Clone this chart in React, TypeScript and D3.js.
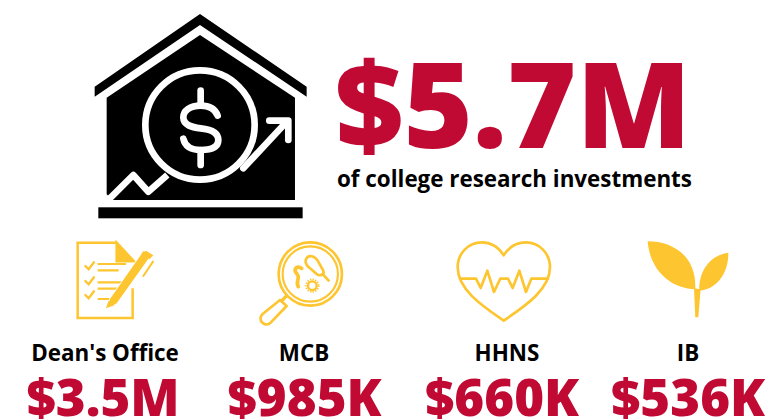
import React from "react";
import * as d3 from "d3";

const categories = ["Dean's Office", "MCB", "HHNS", "IB"];
const amounts = [3500000, 985000, 660000, 536000];
const amountLabels = ["$3.5M", "$985K", "$660K", "$536K"];
const totalLabel = "$5.7M";
const subtitle = "of college research investments";

const RED = "#c10a33";
const GOLD = "#fdc52f";
const FONT = "'Open Sans', sans-serif";

const labelX = d3.scaleOrdinal<string, number>().domain(categories).range([105, 304, 507, 688]);
const amountX = d3.scaleOrdinal<string, number>().domain(categories).range([103, 304.5, 502, 688]);

function HouseIcon() {
  return (
    <g transform="translate(80,0) scale(0.3333)">
      <path d="M360 42L680 260V290L360 75L44 290V260Z" fill="#000" />
      <path d="M360 105L645 293V600H98L80 583V293Z" fill="#000" />
      <rect x={55} y={622} width={613} height={33} fill="#000" />
      <g fill="none" stroke="#fff" strokeWidth={20} strokeLinecap="round" strokeLinejoin="round">
        <circle cx={360} cy={375} r={164} />
        <path d="M85 600L160 525L205 575L262 525" strokeLinecap="butt" />
        <path d="M490 505L620 365" />
        <path d="M568 362H625V420" />
        <path d="M413 347C405 325 385 317 362 317C330 317 310 332 310 352C310 376 335 382 362 385C392 388 415 396 415 420C415 442 392 450 362 450C335 450 315 440 310 416" />
        <path d="M362 272V317M362 450V495" />
      </g>
    </g>
  );
}

function DocIcon() {
  return (
    <g transform="translate(60,230) scale(0.3333)" fill="none" stroke={GOLD} strokeWidth={7.5}>
      <path d="M170 38H53V264H218V175" />
      <path d="M170 38L222 94H170Z" fill={GOLD} />
      <path d="M76 108L86 118L102 97M76 153L86 163L102 142M76 195L86 205L102 184" strokeWidth={7} strokeLinecap="round" />
      <path d="M113 102H198M113 121H176M113 157H186M113 176H172M113 207H150" strokeWidth={6.5} />
      <path d="M138 232L150 205L250 62L274 76L170 222Z" fill={GOLD} stroke="#fff" strokeWidth={3} />
      <path d="M138 235L146 212L165 225Z" fill={GOLD} stroke="none" />
      <path d="M244 70L258 62L280 76L268 88Z" fill={GOLD} stroke="none" />
      <path d="M279 95L250 138" strokeWidth={6} strokeLinecap="round" />
    </g>
  );
}

function LensIcon() {
  return (
    <g transform="translate(60,230) scale(0.3333)" fill="none" stroke={GOLD} strokeWidth={8}>
      <circle cx={751} cy={132} r={95} />
      <circle cx={751} cy={132} r={83} strokeWidth={6.5} />
      <path d="M680 197L664 214" strokeWidth={10} />
      <path d="M660 210L680 228L632 278C620 290 600 280 602 262C603 258 605 255 608 252Z" strokeWidth={8} strokeLinejoin="round" />
      <path d="M738 88C745 72 765 78 773 92L790 122C794 134 780 140 770 132L745 110C737 103 735 96 738 88Z" />
      <path d="M788 132L808 154" />
      <path d="M725 115C705 105 700 122 712 133C722 145 705 155 715 170" strokeWidth={11} strokeLinecap="round" />
      <circle cx={757} cy={167} r={13} strokeWidth={7} />
      <circle cx={757} cy={167} r={19} strokeWidth={5} strokeDasharray="4 4" />
    </g>
  );
}

function HeartIcon() {
  return (
    <g transform="translate(440,230) scale(0.3333)" fill="none" stroke={GOLD} strokeWidth={8} strokeLinejoin="round" strokeLinecap="round">
      <path d="M191 76C175 50 150 37 125 37C85 37 53 70 53 112C53 180 130 230 191 272C252 230 330 180 330 112C330 70 298 37 258 37C233 37 207 50 191 76Z" />
      <path d="M60 146H108L122 174L142 122L162 186L181 146H204L218 174L238 122L258 186L274 146H324" />
    </g>
  );
}

function LeafIcon() {
  return (
    <g transform="translate(440,230) scale(0.3333)" fill={GOLD}>
      <path d="M623 34C690 34 770 70 766 178C690 175 630 120 623 34Z" />
      <path d="M865 68C866 130 830 178 778 182C775 125 810 75 865 68Z" />
      <path d="M762 175L782 178L775 262H766Z" />
    </g>
  );
}

export default function App() {
  return (
    <svg
      width={768}
      height={419}
      viewBox="0 0 768 419"
      style={{ position: "absolute", left: 0, top: 0, background: "#fff" }}
      fontFamily={FONT}
    >
      <HouseIcon />
      <text x={335} y={148} fontSize={118.5} fontWeight={800} fill={RED}>{totalLabel}</text>
      <text x={337} y={187} fontSize={22.4} fontWeight={700} fill="#000">{subtitle}</text>
      <DocIcon />
      <LensIcon />
      <HeartIcon />
      <LeafIcon />
      {categories.map((c, i) => (
        <g key={c} data-value={amounts[i]}>
          <text x={labelX(c)} y={361} textAnchor="middle" fontSize={22.4} fontWeight={700} fill="#000">{c}</text>
          <text x={amountX(c)} y={416} textAnchor="middle" fontSize={51} fontWeight={800} fill={RED}>{amountLabels[i]}</text>
        </g>
      ))}
    </svg>
  );
}
